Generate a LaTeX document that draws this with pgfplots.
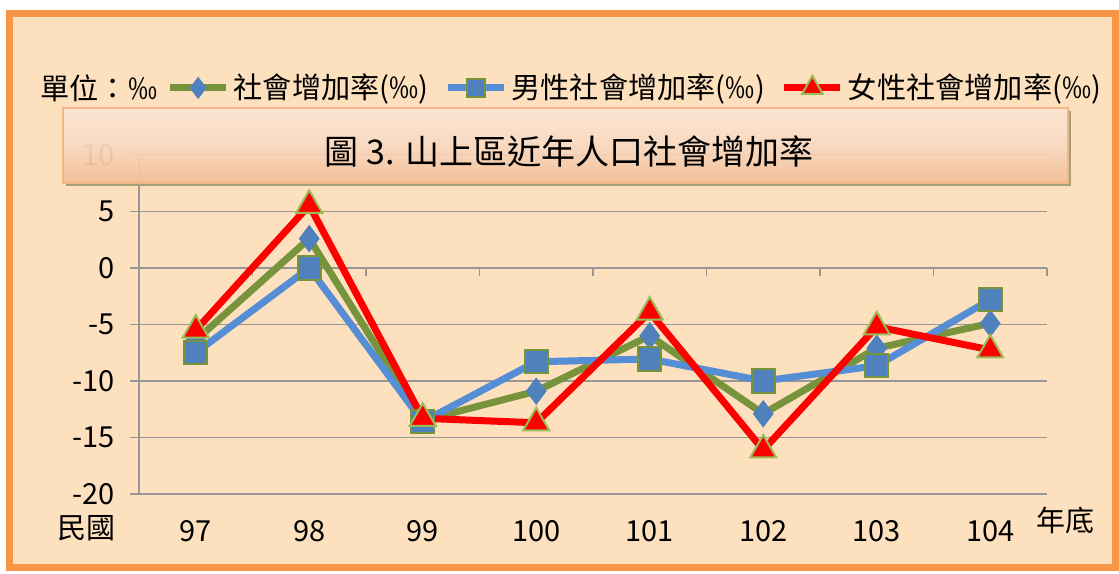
\documentclass[border=0pt]{standalone}
\usepackage{fontspec}
\setmainfont{Noto Sans CJK TC}
\usepackage{pgfplots}
\pgfplotsset{compat=1.18}
\definecolor{bgpeach}{RGB}{253,225,191}
\definecolor{frameorange}{RGB}{247,150,70}
\definecolor{gridgray}{RGB}{150,150,150}
\definecolor{sgreen}{RGB}{119,147,60}
\definecolor{sblue}{RGB}{85,142,213}
\definecolor{mblue}{RGB}{79,129,189}
\definecolor{lgreen}{RGB}{155,187,89}
\definecolor{sred}{RGB}{255,0,0}
\definecolor{tlight}{RGB}{251,229,212}
\definecolor{tdark}{RGB}{242,190,150}
\definecolor{shadowc}{RGB}{165,160,120}

\begin{document}
\begin{tikzpicture}
\fill[white] (0,0) rectangle (559.5pt,286.5pt);
\filldraw[fill=bgpeach, draw=frameorange, line width=3.5pt] (4.75pt,3pt) rectangle (557.75pt,279.75pt);
\begin{axis}[
  at={(69.5pt,39.5pt)}, anchor=south west,
  scale only axis, width=454pt, height=169.5pt,
  xmin=96.5, xmax=104.5, ymin=-20, ymax=10,
  axis lines*=left,
  x axis line style={draw=none},
  y axis line style={draw=gridgray, line width=0.6pt},
  xtick={97,...,104},
  xticklabels={97,98,99,100,101,102,103,104},
  major x tick style={draw=none},
  ytick={-20,-15,...,10},
  yticklabels={-20,-15,-10,-5,0,5,10},
  y tick style={draw=gridgray, line width=0.6pt},
  tick align=outside,
  major tick length=4.5pt,
  ymajorgrids,
  grid style={draw=gridgray, line width=0.8pt},
  tick label style={font=\fontsize{14.5}{16}\selectfont},
  xticklabel style={yshift=-5pt},
  yticklabel style={xshift=-4pt},
  clip=false,
  legend columns=-1,
  legend style={at={(axis description cs:0.030,1.198)}, anchor=west,
    draw=none, fill=none, font=\fontsize{14.6}{16}\selectfont,
    /tikz/every even column/.append style={column sep=6pt},
    inner sep=0pt},
  legend image code/.code={\draw[/tikz/every mark/.append style={scale=0.8},#1,mark repeat=2,mark phase=2] plot coordinates {(0pt,0pt)(14pt,0pt)(28pt,0pt)};},
]
\draw[gridgray, line width=0.8pt] (axis cs:97.5,0) -- (axis cs:97.5,-0.75);
\draw[gridgray, line width=0.8pt] (axis cs:98.5,0) -- (axis cs:98.5,-0.75);
\draw[gridgray, line width=0.8pt] (axis cs:99.5,0) -- (axis cs:99.5,-0.75);
\draw[gridgray, line width=0.8pt] (axis cs:100.5,0) -- (axis cs:100.5,-0.75);
\draw[gridgray, line width=0.8pt] (axis cs:101.5,0) -- (axis cs:101.5,-0.75);
\draw[gridgray, line width=0.8pt] (axis cs:102.5,0) -- (axis cs:102.5,-0.75);
\draw[gridgray, line width=0.8pt] (axis cs:103.5,0) -- (axis cs:103.5,-0.75);
\draw[gridgray, line width=0.8pt] (axis cs:104.5,0) -- (axis cs:104.5,-0.75);
\draw[gridgray, line width=0.6pt] (rel axis cs:0,0) -- (rel axis cs:0,1);
\addplot[sgreen, line width=3.5pt, mark=diamond*, mark size=6.5pt,
  mark options={fill=mblue, draw=mblue, line width=0.5pt, solid}]
  coordinates {(97,-6.4)(98,2.6)(99,-13.5)(100,-10.9)(101,-6.0)(102,-12.9)(103,-7.1)(104,-4.9)};
\addlegendentry{社會增加率(‰)}
\addplot[sblue, line width=3.5pt, mark=square*, mark size=5.8pt,
  mark options={fill=mblue, draw=sgreen, line width=1pt, solid}]
  coordinates {(97,-7.5)(98,0)(99,-13.6)(100,-8.3)(101,-8.05)(102,-10.0)(103,-8.65)(104,-2.8)};
\addlegendentry{男性社會增加率(‰)}
\addplot[sred, line width=3.5pt, mark=triangle*, mark size=7.5pt,
  mark options={fill=sred, draw=lgreen, line width=1pt, solid}]
  coordinates {(97,-5.5)(98,5.55)(99,-13.3)(100,-13.7)(101,-3.9)(102,-16.1)(103,-5.2)(104,-7.25)};
\addlegendentry{女性社會增加率(‰)}
\end{axis}
% title box
\fill[shadowc] (33pt,193.5pt) rectangle (535.5pt,195pt);
\fill[shadowc] (534pt,193.5pt) rectangle (535.5pt,231pt);
\shade[top color=tlight, bottom color=tdark, middle color=tlight!70!tdark, fill opacity=0.94]
  (31.5pt,195pt) rectangle (534pt,232.5pt);
\draw[tdark!80!frameorange, line width=0.8pt] (31.5pt,195pt) rectangle (534pt,232.5pt);
\node[font=\fontsize{17}{20}\selectfont] at (284.5pt,211pt) {圖 3. 山上區近年人口社會增加率};
\node[anchor=west, font=\fontsize{14.6}{16}\selectfont, inner sep=0pt] at (20pt,242.5pt) {單位：‰};
\node[font=\fontsize{14.5}{16}\selectfont] at (43pt,22.5pt) {民國};
\node[font=\fontsize{14.5}{16}\selectfont] at (532.5pt,26.5pt) {年底};
\pgfresetboundingbox
\path[use as bounding box] (0,0) rectangle (559.5pt,286.5pt);
\end{tikzpicture}
\end{document}
